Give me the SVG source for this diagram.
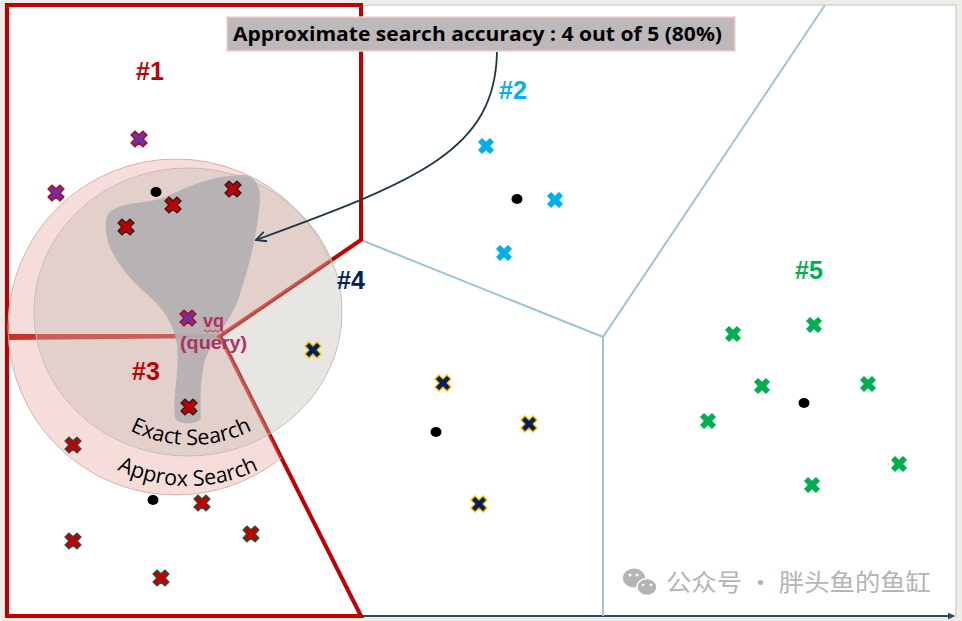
<svg xmlns="http://www.w3.org/2000/svg" width="962" height="621" viewBox="0 0 962 621">
<style>
.red{fill:none;stroke:#c00000;stroke-width:4;stroke-linejoin:miter}
.vor{fill:none;stroke:#9dc3d8;stroke-width:2}
.xr{fill:#c00000;stroke:#2a1a1a;stroke-width:1.2}
.xr3{fill:#c00000;stroke:#1e5a40;stroke-width:1.2}
.xp{fill:#7030a0;stroke:#c00000;stroke-width:1.2}
.xc{fill:#00b0f0}
.xn{fill:#002060;stroke:#ffc000;stroke-width:1.3}
.xg{fill:#00b050}
.dot{fill:#000}
.lab{font-family:"Liberation Sans",Arial,sans-serif;font-weight:bold;font-size:25px;text-anchor:middle}
.arc{font-family:"Open Sans","Liberation Sans",sans-serif;font-size:21.5px;fill:#000}
</style>
<defs>
<path id="x" d="M-8,-4 L-4,-8 L0,-4.2 L4,-8 L8,-4 L4.2,0 L8,4 L4,8 L0,4.2 L-4,8 L-8,4 L-4.2,0 Z"/>
<clipPath id="cells13"><polygon points="7,5 361,5 361,240 220,336 361,616 7,616"/></clipPath>
<marker id="ah" viewBox="0 0 12 12" refX="11" refY="6" markerWidth="12" markerHeight="12" markerUnits="userSpaceOnUse" orient="auto"><path d="M1,1 L11,6 L1,11" fill="none" stroke="#1f3847" stroke-width="1.8"/></marker>
<marker id="ax" viewBox="0 0 8 8" refX="7" refY="4" markerWidth="7" markerHeight="7" markerUnits="userSpaceOnUse" orient="auto"><path d="M0,0 L8,4 L0,8 Z" fill="#2e4a5a"/></marker>
<path id="arcExact" d="M56,310 A135,135 0 0 0 326,310"/>
<path id="arcApprox" d="M26,324 A162,162 0 0 0 350,324"/>
</defs>

<rect x="0" y="0" width="962" height="621" fill="#eeece9"/>
<rect x="5" y="5" width="951" height="611" fill="#fff" stroke="#d5d2cc" stroke-width="1.5"/>
<line x1="361" y1="616" x2="954" y2="616" stroke="#2e4a5a" stroke-width="2" marker-end="url(#ax)"/>

<g id="boundaries">
<path class="vor" d="M361,240 L603,337 L825,5 M603,337 L603,616"/>
<path class="red" d="M7,336 L7,5 L361,5 L361,240 L220,336 Z"/>
<path class="red" d="M7,338 L220,336 L361,616 L7,616 Z"/>
</g>

<g id="search-areas">
<circle cx="176" cy="327" r="168" fill="#e6968c" fill-opacity="0.32" stroke="#d8b0aa" stroke-width="1" clip-path="url(#cells13)"/>
<ellipse cx="188" cy="312" rx="154" ry="144" fill="#bdb8af" fill-opacity="0.35" stroke="#c4bfba" stroke-width="1"/>
<path d="M110,212 C125,200 150,205 170,195 C195,183 215,176 240,175 C258,174 262,190 259,210 C256,240 248,270 238,300 C228,325 212,340 205,360 C200,380 200,405 201,418 C198,425 178,425 175,418 C172,400 180,370 177,345 C174,320 160,305 140,288 C120,268 108,250 106,232 C105,222 106,216 110,212 Z" fill="#b3afb1" fill-opacity="0.92"/>
<text class="arc"><textPath href="#arcExact" startOffset="50%" text-anchor="middle">Exact Search</textPath></text>
<text class="arc"><textPath href="#arcApprox" startOffset="50%" text-anchor="middle">Approx Search</textPath></text>
</g>

<g id="cell-1">
<text class="lab" x="150" y="80" fill="#c00000">#1</text>
<use href="#x" x="139" y="139" class="xp"/>
<use href="#x" x="56" y="193" class="xp"/>
<use href="#x" x="233" y="189" class="xr"/>
<use href="#x" x="173" y="205" class="xr"/>
<use href="#x" x="126" y="227" class="xr"/>
<ellipse class="dot" cx="156" cy="192" rx="5.5" ry="5"/>
</g>

<g id="query">
<use href="#x" x="188" y="318" class="xp"/>
<text x="203" y="327" font-family="'Liberation Sans',Arial,sans-serif" font-weight="bold" font-size="18" fill="#b03060">vq</text>
<path d="M204,331 q1.25,-1.6 2.5,0 t2.5,0 t2.5,0 t2.5,0 t2.5,0 t2.5,0 t2.5,0 t2.5,0" fill="none" stroke="#e02020" stroke-width="0.9"/>
<text x="180" y="349" font-family="'Liberation Sans',Arial,sans-serif" font-weight="bold" font-size="18" fill="#b03060" textLength="67" lengthAdjust="spacingAndGlyphs">(query)</text>
</g>

<g id="cell-3">
<text class="lab" x="146" y="380" fill="#c00000">#3</text>
<use href="#x" x="189" y="407" class="xr"/>
<use href="#x" x="73" y="445" class="xr3"/>
<use href="#x" x="202" y="503" class="xr3"/>
<use href="#x" x="251" y="534" class="xr3"/>
<use href="#x" x="73" y="541" class="xr3"/>
<use href="#x" x="161" y="578" class="xr3"/>
<ellipse class="dot" cx="153" cy="500" rx="5.5" ry="5"/>
</g>

<g id="cell-2">
<text class="lab" x="513" y="99" fill="#00b0f0">#2</text>
<use href="#x" x="486" y="146" class="xc"/>
<use href="#x" x="555" y="200" class="xc"/>
<use href="#x" x="504" y="253" class="xc"/>
<ellipse class="dot" cx="517" cy="199" rx="5.5" ry="5"/>
</g>

<g id="cell-4">
<text class="lab" x="351" y="289" fill="#002060">#4</text>
<use href="#x" x="313" y="350" class="xn"/>
<use href="#x" x="443" y="383" class="xn"/>
<use href="#x" x="529" y="424" class="xn"/>
<use href="#x" x="479" y="504" class="xn"/>
<ellipse class="dot" cx="436" cy="432" rx="5.5" ry="5"/>
</g>

<g id="cell-5">
<text class="lab" x="809" y="279" fill="#00b050">#5</text>
<use href="#x" x="733" y="334" class="xg"/>
<use href="#x" x="814" y="325" class="xg"/>
<use href="#x" x="762" y="386" class="xg"/>
<use href="#x" x="868" y="384" class="xg"/>
<use href="#x" x="708" y="421" class="xg"/>
<use href="#x" x="899" y="464" class="xg"/>
<use href="#x" x="812" y="485" class="xg"/>
<ellipse class="dot" cx="804" cy="403" rx="5.5" ry="5"/>
</g>

<g id="connectors">
<path d="M497,52 C495,150 420,180 256,240" fill="none" stroke="#1f3847" stroke-width="1.8" marker-end="url(#ah)"/>
</g>

<g id="title">
<rect x="227" y="17" width="508" height="34" fill="#bdb8b9" stroke="#f2d2ce" stroke-width="1.5"/>
<text x="233" y="41" font-family="'Open Sans','Liberation Sans',Arial,sans-serif" font-weight="bold" font-size="19" fill="#000" textLength="489" lengthAdjust="spacingAndGlyphs">Approximate search accuracy : 4 out of 5 (80%)</text>
</g>

<g id="watermark">
<ellipse cx="634" cy="578" rx="11" ry="9.5" fill="#b4b4b4"/>
<ellipse cx="647" cy="587" rx="10" ry="8.5" fill="#b4b4b4" stroke="#fff" stroke-width="1.5"/>
<circle cx="630" cy="575" r="1.5" fill="#fff"/>
<circle cx="637" cy="575" r="1.5" fill="#fff"/>
<circle cx="643" cy="585" r="1.3" fill="#fff"/>
<circle cx="651" cy="585" r="1.3" fill="#fff"/>
<text x="666" y="591" font-family="'Noto Sans CJK SC',sans-serif" font-size="24" fill="#b4b4b4" textLength="265" lengthAdjust="spacingAndGlyphs">公众号 · 胖头鱼的鱼缸</text>
</g>
</svg>
